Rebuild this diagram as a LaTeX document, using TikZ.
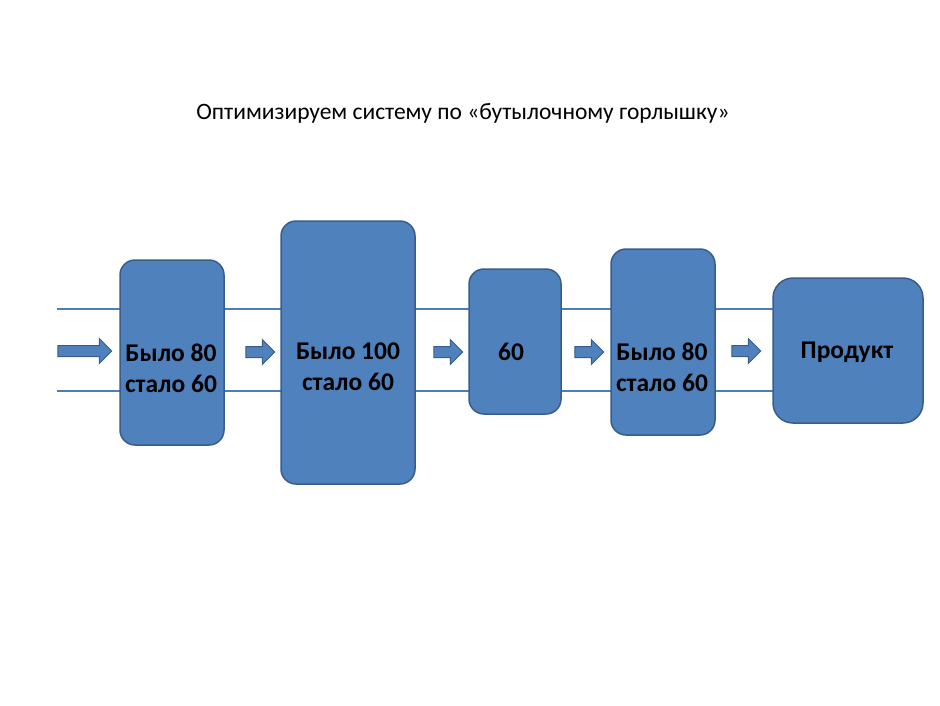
\documentclass[tikz,border=0pt]{standalone}
\usepackage{fontspec}
\setmainfont{Carlito}
\usetikzlibrary{shapes.arrows}
\definecolor{boxblue}{HTML}{4F81BD}
\definecolor{edgeblue}{HTML}{385D8A}
\definecolor{lineblue}{HTML}{4A7EBB}

\begin{document}
\begin{tikzpicture}[x=1pt,y=-1pt,
  blk/.style={draw=edgeblue,line width=1.5pt,fill=boxblue,rounded corners=15pt,inner sep=0pt},
  lbl/.style={font=\fontsize{25.5}{31}\selectfont\bfseries,align=center,text=black},
  flow/.style={single arrow,draw=edgeblue,line width=1pt,fill=boxblue,inner xsep=0pt,inner ysep=5pt,
    single arrow head extend=7pt,single arrow tip angle=90,minimum width=24pt}]
\useasboundingbox (0,0) rectangle (940,705);
\node[font=\fontsize{23.5}{28}\selectfont] (title) at (463,113) {Оптимизируем систему по «бутылочному горлышку»};
% the two lines of the flow, behind the boxes
\coordinate (top) at (57,309);
\coordinate (bot) at (57,391);
\node[minimum width=150pt,minimum height=145pt] (b5) at (848,350.5) {};
\draw[lineblue,line width=2pt] (top) -- (top -| b5.west);
\draw[lineblue,line width=2pt] (bot) -- (bot -| b5.west);
% boxes
\node[blk,minimum width=104pt,minimum height=185pt] (b1) at (172,352.5) {};
\node[blk,minimum width=134pt,minimum height=263pt] (b2) at (348,352.5) {};
\node[blk,minimum width=92pt,minimum height=145pt] (b3) at (515,341.5) {};
\node[blk,minimum width=104pt,minimum height=186pt] (b4) at (663,342) {};
\node[blk,minimum width=150pt,minimum height=145pt,rounded corners=20pt] at (b5) {};
\node[lbl] (t1) at (171,368) {Было 80\\стало 60};
\node[lbl] (t2) at (348,367) {Было 100\\стало 60};
\node[lbl] (t3) at (511,352) {60};
\node[lbl] (t4) at (662,367) {Было 80\\стало 60};
\node[lbl] (t5) at (847,352) {Продукт};
% arrows between the steps
\node[flow,minimum height=54pt] (a1) at (82,351) {};
\node[flow,minimum height=29pt] (a2) at (257.5,352) {};
\node[flow,minimum height=29pt] (a3) at (445.5,352) {};
\node[flow,minimum height=29pt] (a4) at (586.5,352) {};
\node[flow,minimum height=29pt] (a5) at (743.5,351) {};
\end{tikzpicture}
\end{document}
